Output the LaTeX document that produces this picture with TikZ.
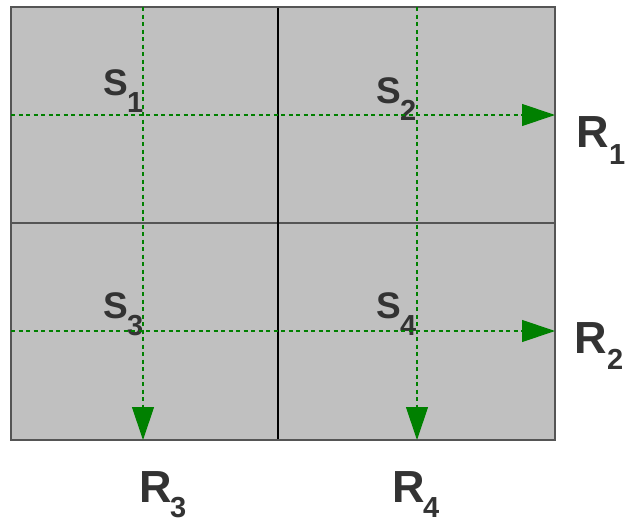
\documentclass[tikz,border=0pt]{standalone}
\usepackage{fontspec}
\setmainfont{Liberation Sans}
\usetikzlibrary{arrows.meta}
\definecolor{cellgray}{HTML}{C0C0C0}
\definecolor{flowgreen}{HTML}{008000}
\definecolor{txt}{HTML}{333333}
\definecolor{edge}{HTML}{555555}
\begin{document}
\begin{tikzpicture}[x=1pt,y=-1pt,
  flow/.style={color=flowgreen,line width=1.2pt,dash pattern=on 4pt off 3.5pt,
    -{Triangle[length=33pt,width=22pt]}},
  big/.style={inner sep=0pt,anchor=base west,text=txt,font=\fontsize{37}{40}\selectfont\bfseries},
  bigr/.style={inner sep=0pt,anchor=base west,text=txt,font=\fontsize{45}{48}\selectfont\bfseries},
  sub/.style={inner sep=0pt,anchor=base west,text=txt,font=\fontsize{29}{32}\selectfont\bfseries}]
\useasboundingbox (0,0) rectangle (625,522);
% grid
\fill[cellgray] (11,7) rectangle (555,440);
\draw[edge,line width=1.5pt] (11,223) -- (555,223);
\draw[black,line width=1.5pt] (278,7) -- (278,440);
\draw[edge,line width=1.5pt] (11,7) rectangle (555,440);
% coordinates for flows
\coordinate (c1t) at (143,7);   \coordinate (c1b) at (143,440);
\coordinate (c2t) at (417,7);   \coordinate (c2b) at (417,440);
\coordinate (r1l) at (11,115);  \coordinate (r1r) at (555,115);
\coordinate (r2l) at (11,331);  \coordinate (r2r) at (555,331);
% S labels
\node[big] (S1) at (103,95) {S};  \node[sub] (S1s) at (127,112) {1};
\node[big] (S2) at (376,103) {S}; \node[sub] (S2s) at (400,120) {2};
\node[big] (S3) at (103,318) {S}; \node[sub] (S3s) at (127,335) {3};
\node[big] (S4) at (376,318) {S}; \node[sub] (S4s) at (400,335) {4};
% flows
\draw[flow] (c1t) -- (c1b);
\draw[flow] (c2t) -- (c2b);
\draw[flow] (r1l) -- (r1r);
\draw[flow] (r2l) -- (r2r);
% R labels
\node[bigr] (R1) at (576,147) {R}; \node[sub] (R1s) at (609,164) {1};
\node[bigr] (R2) at (574,353) {R}; \node[sub] (R2s) at (607,369) {2};
\node[bigr] (R3) at (139,502) {R}; \node[sub] (R3s) at (170,517) {3};
\node[bigr] (R4) at (392,502) {R}; \node[sub] (R4s) at (423,517) {4};
\end{tikzpicture}
\end{document}
